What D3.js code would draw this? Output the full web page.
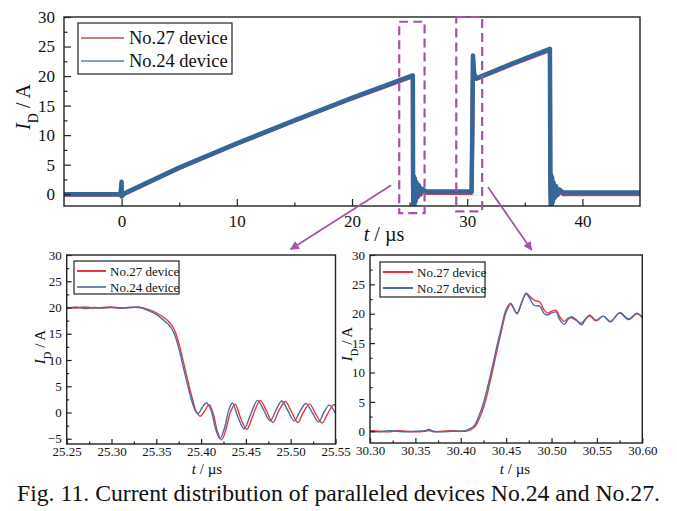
<!DOCTYPE html>
<html>
<head>
<meta charset="utf-8">
<script src="https://cdn.jsdelivr.net/npm/d3@7"></script>
<style>
  body { margin: 0; background: #fff; }
  text { font-family: "Liberation Serif", "Times New Roman", serif; fill: #111; }
</style>
</head>
<body>
<div id="d3-container"></div>
<script>
/**
 * CONSTANTS AND GLOBALS
 **/
const width = 677,
  height = 511,
  magenta = "#a653a6";

// top panel : full switching waveform
const topT = [-5, -2, -0.1, 0, 0, 0.2, 5, 10, 15, 20, 25.28, 25.3, 25.34, 25.38, 25.42, 25.47, 25.52, 25.6, 25.7, 25.8, 25.95, 26.1, 26.4, 28, 30.38, 30.45, 30.5, 30.6, 30.8, 34, 37.18, 37.22, 37.26, 37.3, 37.34, 37.38, 37.44, 37.5, 37.6, 37.7, 37.85, 38, 38.3, 42, 45];
const top24 = [0, 0, 0, 2.1, -0.4, 0.1, 4.5, 8.6, 12.5, 16.3, 20.1, 2, -2.1, 3, -1.8, 2.6, -1.2, 2, -0.5, 1.5, 0.1, 0.9, 0.45, 0.45, 0.45, 12, 23.5, 20.4, 19.6, 22.2, 24.6, 2, -2.1, 3.2, -1.8, 2.8, -1.3, 2, -0.6, 1.4, 0, 0.8, 0.3, 0.3, 0.3];
const top27 = [-0.1, -0.1, -0.1, 1.5, -0.2, 0, 4.4, 8.5, 12.4, 16.2, 19.95, 1.5, -1.8, 2.4, -1.5, 2, -1, 1.5, -0.4, 1.0, -0.1, 0.5, 0.2, 0.2, 0.2, 11, 22.8, 20.2, 19.5, 22.05, 24.4, 1.5, -1.8, 2.5, -1.5, 2.2, -1.1, 1.4, -0.5, 0.9, -0.2, 0.4, 0, 0, 0];

// bottom left : turn-off detail
const off24T = [25.25, 25.26, 25.27, 25.28, 25.29, 25.30, 25.31, 25.32, 25.33, 25.34, 25.35, 25.36, 25.365, 25.37, 25.375, 25.38, 25.385, 25.39, 25.394, 25.397, 25.401, 25.406, 25.411, 25.416, 25.421, 25.426, 25.431, 25.435, 25.441, 25.448, 25.455, 25.463, 25.470, 25.477, 25.484, 25.490, 25.497, 25.504, 25.510, 25.517, 25.524, 25.531, 25.537, 25.543, 25.55];
const off24I = [19.8, 20.1, 19.8, 20.0, 19.9, 20.0, 19.9, 20.0, 20.1, 19.5, 18.7, 17.3, 16.5, 15.0, 12.3, 8.7, 5.2, 2.0, 0.2, -0.2, 0.9, 1.8, 0.5, -3.0, -5.0, -3.0, 0.5, 1.8, -0.8, -3.1, -0.5, 2.3, 0.4, -1.6, 0.6, 2.2, 0.3, -1.6, 0.1, 1.7, 0, -1.8, 0, 1.4, -0.2];
const off27T = [25.25, 25.26, 25.27, 25.28, 25.29, 25.30, 25.31, 25.32, 25.33, 25.34, 25.35, 25.36, 25.365, 25.37, 25.375, 25.38, 25.385, 25.39, 25.395, 25.399, 25.404, 25.409, 25.414, 25.418, 25.423, 25.428, 25.433, 25.438, 25.444, 25.451, 25.458, 25.466, 25.473, 25.480, 25.487, 25.494, 25.501, 25.508, 25.514, 25.521, 25.528, 25.535, 25.541, 25.548, 25.55];
const off27I = [20.0, 19.9, 20.1, 19.9, 20.0, 20.1, 19.9, 20.0, 20.0, 19.7, 19.0, 17.9, 17.1, 15.8, 13.3, 9.8, 6.2, 2.8, 0.0, -0.7, 0.3, 1.5, -0.5, -3.5, -5.2, -3.0, 0.2, 1.6, -1.0, -3.2, -0.5, 2.3, 0.3, -1.9, 0.4, 2.1, 0.1, -1.9, 0, 1.6, -0.3, -2.0, -0.3, 1.5, 1.3];

// bottom right : turn-on detail
const on24T = [30.30, 30.31, 30.32, 30.33, 30.34, 30.35, 30.36, 30.365, 30.37, 30.38, 30.39, 30.40, 30.405, 30.41, 30.415, 30.42, 30.425, 30.43, 30.435, 30.44, 30.445, 30.45, 30.455, 30.458, 30.462, 30.467, 30.472, 30.476, 30.481, 30.487, 30.492, 30.496, 30.501, 30.505, 30.509, 30.514, 30.518, 30.522, 30.527, 30.533, 30.538, 30.542, 30.549, 30.557, 30.565, 30.575, 30.585, 30.594, 30.60];
const on24I = [0, -0.1, 0.1, 0, -0.1, 0, 0.1, 0.3, 0, -0.1, 0, 0, 0.1, 0.4, 1.0, 2.6, 4.8, 7.8, 11.1, 14.6, 17.8, 20.7, 21.8, 21.0, 20.0, 21.8, 23.4, 22.6, 21.4, 21.3, 20.0, 19.8, 20.2, 20.3, 19.0, 18.2, 19.0, 19.5, 19.0, 18.1, 19.2, 19.8, 18.9, 19.6, 18.6, 20.2, 19.1, 20.1, 19.3];
const on27T = on24T;
const on27I = [0.1, 0, -0.1, 0.1, 0, -0.1, 0, 0.1, -0.1, 0, 0.1, 0, 0, 0.2, 0.7, 2.0, 4.0, 6.9, 10.3, 13.8, 17.2, 20.3, 21.6, 21.0, 20.1, 21.9, 23.5, 23.0, 22.3, 22.0, 20.6, 20.1, 20.5, 20.6, 19.5, 18.7, 19.2, 19.3, 18.9, 18.4, 19.2, 19.6, 18.8, 19.6, 18.7, 20.1, 19.0, 20.0, 19.4];

// legends
const topLegend = ["No.27 device", "No.24 device"];
const offLegend = ["No.27 device", "No.24 device"];
const onLegend = ["No.27 device", "No.27 device"];

// tick values
const topXTicks = [0, 10, 20, 30, 40], topXMinor = [5, 15, 25, 35];
const topYTicks = [0, 5, 10, 15, 20, 25, 30], topYMinor = [2.5, 7.5, 12.5, 17.5, 22.5, 27.5];
const offXTicks = [25.25, 25.30, 25.35, 25.40, 25.45, 25.50, 25.55], offXMinor = [25.275, 25.325, 25.375, 25.425, 25.475, 25.525];
const offYTicks = [-5, 0, 5, 10, 15, 20, 25, 30], offYMinor = [-2.5, 2.5, 7.5, 12.5, 17.5, 22.5, 27.5];
const onXTicks = [30.30, 30.35, 30.40, 30.45, 30.50, 30.55, 30.60], onXMinor = [30.325, 30.375, 30.425, 30.475, 30.525, 30.575];
const onYTicks = [0, 5, 10, 15, 20, 25, 30], onYMinor = topYMinor;

const caption = "Fig. 11. Current distribution of paralleled devices No.24 and No.27.";

let svg = d3.select("#d3-container").append("svg")
  .attr("width", width).attr("height", height);

// one panel with frame, inward ticks, two traces and a legend
function drawPanel(p) {
  const x = d3.scaleLinear().domain(p.xDomain).range([p.left, p.right]);
  const y = d3.scaleLinear().domain(p.yDomain).range([p.bottom, p.top]);
  const g = svg.append("g");

  const clipId = "clip" + p.id;
  g.append("clipPath").attr("id", clipId).append("rect")
    .attr("x", p.left).attr("y", p.top)
    .attr("width", p.right - p.left).attr("height", p.bottom - p.top);

  const line = d3.line().x(d => x(d[0])).y(d => y(d[1])).curve(p.curve);
  p.series.forEach(s => {
    g.append("path")
      .datum(d3.zip(s.t, s.v))
      .attr("clip-path", `url(#${clipId})`)
      .attr("fill", "none")
      .attr("stroke", s.color)
      .attr("stroke-width", s.w)
      .attr("stroke-linejoin", "round")
      .attr("d", line);
  });

  // axes
  g.append("g").attr("transform", `translate(0,${p.bottom})`)
    .call(d3.axisBottom(x).tickValues(p.xTicks).tickFormat(d3.format(p.xFmt))
      .tickSizeInner(-p.tick).tickSizeOuter(0).tickPadding(p.xPad));
  g.append("g").attr("transform", `translate(0,${p.bottom})`)
    .call(d3.axisBottom(x).tickValues(p.xMinor).tickFormat("").tickSizeInner(-p.tick / 2).tickSizeOuter(0));
  g.append("g").attr("transform", `translate(${p.left},0)`)
    .call(d3.axisLeft(y).tickValues(p.yTicks).tickFormat(d3.format("d"))
      .tickSizeInner(-p.tick).tickSizeOuter(0).tickPadding(p.yPad));
  g.append("g").attr("transform", `translate(${p.left},0)`)
    .call(d3.axisLeft(y).tickValues(p.yMinor).tickFormat("").tickSizeInner(-p.tick / 2).tickSizeOuter(0));
  g.selectAll(".domain").remove();
  g.selectAll(".tick line").attr("stroke", "#222").attr("stroke-width", 1.2);
  g.selectAll(".tick text")
    .style("font-family", '"Liberation Serif", serif')
    .style("font-size", p.tickFont + "px").attr("fill", "#111");

  g.append("rect")
    .attr("x", p.left).attr("y", p.top)
    .attr("width", p.right - p.left).attr("height", p.bottom - p.top)
    .attr("fill", "none").attr("stroke", "#222").attr("stroke-width", 1.4);

  // axis titles
  const yt = g.append("text")
    .attr("transform", `translate(${p.yTitle[0]},${p.yTitle[1]}) rotate(-90)`)
    .attr("text-anchor", "middle")
    .style("font-size", p.titleFont + "px");
  yt.append("tspan").attr("font-style", "italic").text("I");
  yt.append("tspan").attr("baseline-shift", "sub").style("font-size", (p.titleFont * 0.7) + "px").text("D");
  yt.append("tspan").text(" / A");

  const xt = g.append("text")
    .attr("x", p.xTitle[0]).attr("y", p.xTitle[1])
    .attr("text-anchor", "middle")
    .style("font-size", p.titleFont + "px");
  xt.append("tspan").attr("font-style", "italic").text("t");
  xt.append("tspan").text(" / \u00b5s");

  // legend
  const L = p.legend;
  g.append("rect")
    .attr("x", L.x).attr("y", L.y).attr("width", L.w).attr("height", L.h)
    .attr("fill", "#fff").attr("stroke", "#222").attr("stroke-width", 1.2);
  L.labels.forEach((lab, i) => {
    const cy = L.y + L.row0 + i * L.step;
    g.append("line")
      .attr("x1", L.x + 3).attr("x2", L.x + 3 + L.len)
      .attr("y1", cy).attr("y2", cy)
      .attr("stroke", p.series[i].legendColor).attr("stroke-width", 2);
    g.append("text")
      .attr("x", L.x + 3 + L.len + L.gap).attr("y", cy)
      .attr("dy", "0.35em")
      .style("font-size", L.font + "px")
      .text(lab);
  });

  return { x, y };
}

// TOP PANEL
const topP = drawPanel({
  id: "top", xDomain: [-5, 45], yDomain: [-2, 30],
  left: 64, right: 640, top: 17, bottom: 206,
  xTicks: topXTicks, xMinor: topXMinor, yTicks: topYTicks, yMinor: topYMinor,
  xFmt: "d", tick: 7, xPad: 9, yPad: 9, tickFont: 17, titleFont: 20,
  yTitle: [30, 107], xTitle: [384, 241],
  curve: d3.curveLinear,
  series: [
    { t: topT, v: top27, color: "#c8404d", legendColor: "#cd7a80", w: 4 },
    { t: topT, v: top24, color: "#34669a", legendColor: "#86a2bb", w: 4.5 }
  ],
  legend: { x: 78, y: 23, w: 154, h: 51, row0: 15, step: 23, len: 43, gap: 5, font: 18.5, labels: topLegend }
});

// BOTTOM LEFT
const offP = drawPanel({
  id: "off", xDomain: [25.25, 25.55], yDomain: [-6, 30],
  left: 66.7, right: 335.5, top: 255, bottom: 444,
  xTicks: offXTicks, xMinor: offXMinor, yTicks: offYTicks, yMinor: offYMinor,
  xFmt: ".2f", tick: 5, xPad: 3, yPad: 5, tickFont: 13, titleFont: 15,
  yTitle: [45, 347], xTitle: [207, 474],
  curve: d3.curveCatmullRom,
  series: [
    { t: off27T, v: off27I, color: "#e8373c", legendColor: "#e8373c", w: 1.4 },
    { t: off24T, v: off24I, color: "#4b6ca5", legendColor: "#6a88b8", w: 1.4 }
  ],
  legend: { x: 74, y: 261, w: 105, h: 33, row0: 10, step: 16, len: 29, gap: 4, font: 13, labels: offLegend }
});

// BOTTOM RIGHT
const onP = drawPanel({
  id: "on", xDomain: [30.30, 30.60], yDomain: [-2, 30],
  left: 370, right: 642.3, top: 255, bottom: 443,
  xTicks: onXTicks, xMinor: onXMinor, yTicks: onYTicks, yMinor: onYMinor,
  xFmt: ".2f", tick: 5, xPad: 3, yPad: 5, tickFont: 13, titleFont: 15,
  yTitle: [352, 344], xTitle: [515, 474],
  curve: d3.curveCatmullRom,
  series: [
    { t: on27T, v: on27I, color: "#e8373c", legendColor: "#e8373c", w: 1.4 },
    { t: on24T, v: on24I, color: "#4b6ca5", legendColor: "#4b6ca5", w: 1.4 }
  ],
  legend: { x: 380, y: 262, w: 105, h: 35, row0: 10, step: 16, len: 30, gap: 4, font: 13, labels: onLegend }
});

// zoom boxes on the top panel (data coordinates)
const boxes = [
  { t0: 24.1, t1: 26.3, v0: -3.2, v1: 29.2 },
  { t0: 29.05, t1: 31.3, v0: -2.9, v1: 30.0 }
];
boxes.forEach(b => {
  svg.append("rect")
    .attr("x", topP.x(b.t0)).attr("y", topP.y(b.v1))
    .attr("width", topP.x(b.t1) - topP.x(b.t0))
    .attr("height", topP.y(b.v0) - topP.y(b.v1))
    .attr("fill", "none").attr("stroke", magenta)
    .attr("stroke-width", 2.2).attr("stroke-dasharray", "9,5");
});

// arrows from the top panel down to the detail panels
svg.append("defs").append("marker")
  .attr("id", "head").attr("viewBox", "0 0 10 10")
  .attr("refX", 9).attr("refY", 5)
  .attr("markerWidth", 9).attr("markerHeight", 9)
  .attr("markerUnits", "userSpaceOnUse")
  .attr("orient", "auto")
  .append("path").attr("d", "M0,0 L10,5 L0,10 z").attr("fill", magenta);

const arrows = [
  { from: [topP.x(23.4), topP.y(1.5)], to: [offP.x(25.5), offP.y(31.1)] },
  { from: [topP.x(31.8), topP.y(1.2)], to: [onP.x(30.478), onP.y(30.85)] }
];
arrows.forEach(a => {
  svg.append("line")
    .attr("x1", a.from[0]).attr("y1", a.from[1])
    .attr("x2", a.to[0]).attr("y2", a.to[1])
    .attr("stroke", magenta).attr("stroke-width", 1.8)
    .attr("marker-end", "url(#head)");
});

// caption
svg.append("text")
  .attr("x", width / 2).attr("y", 501)
  .attr("text-anchor", "middle")
  .attr("textLength", 643)
  .attr("lengthAdjust", "spacingAndGlyphs")
  .style("font-size", "23px")
  .text(caption);
</script>
</body>
</html>
